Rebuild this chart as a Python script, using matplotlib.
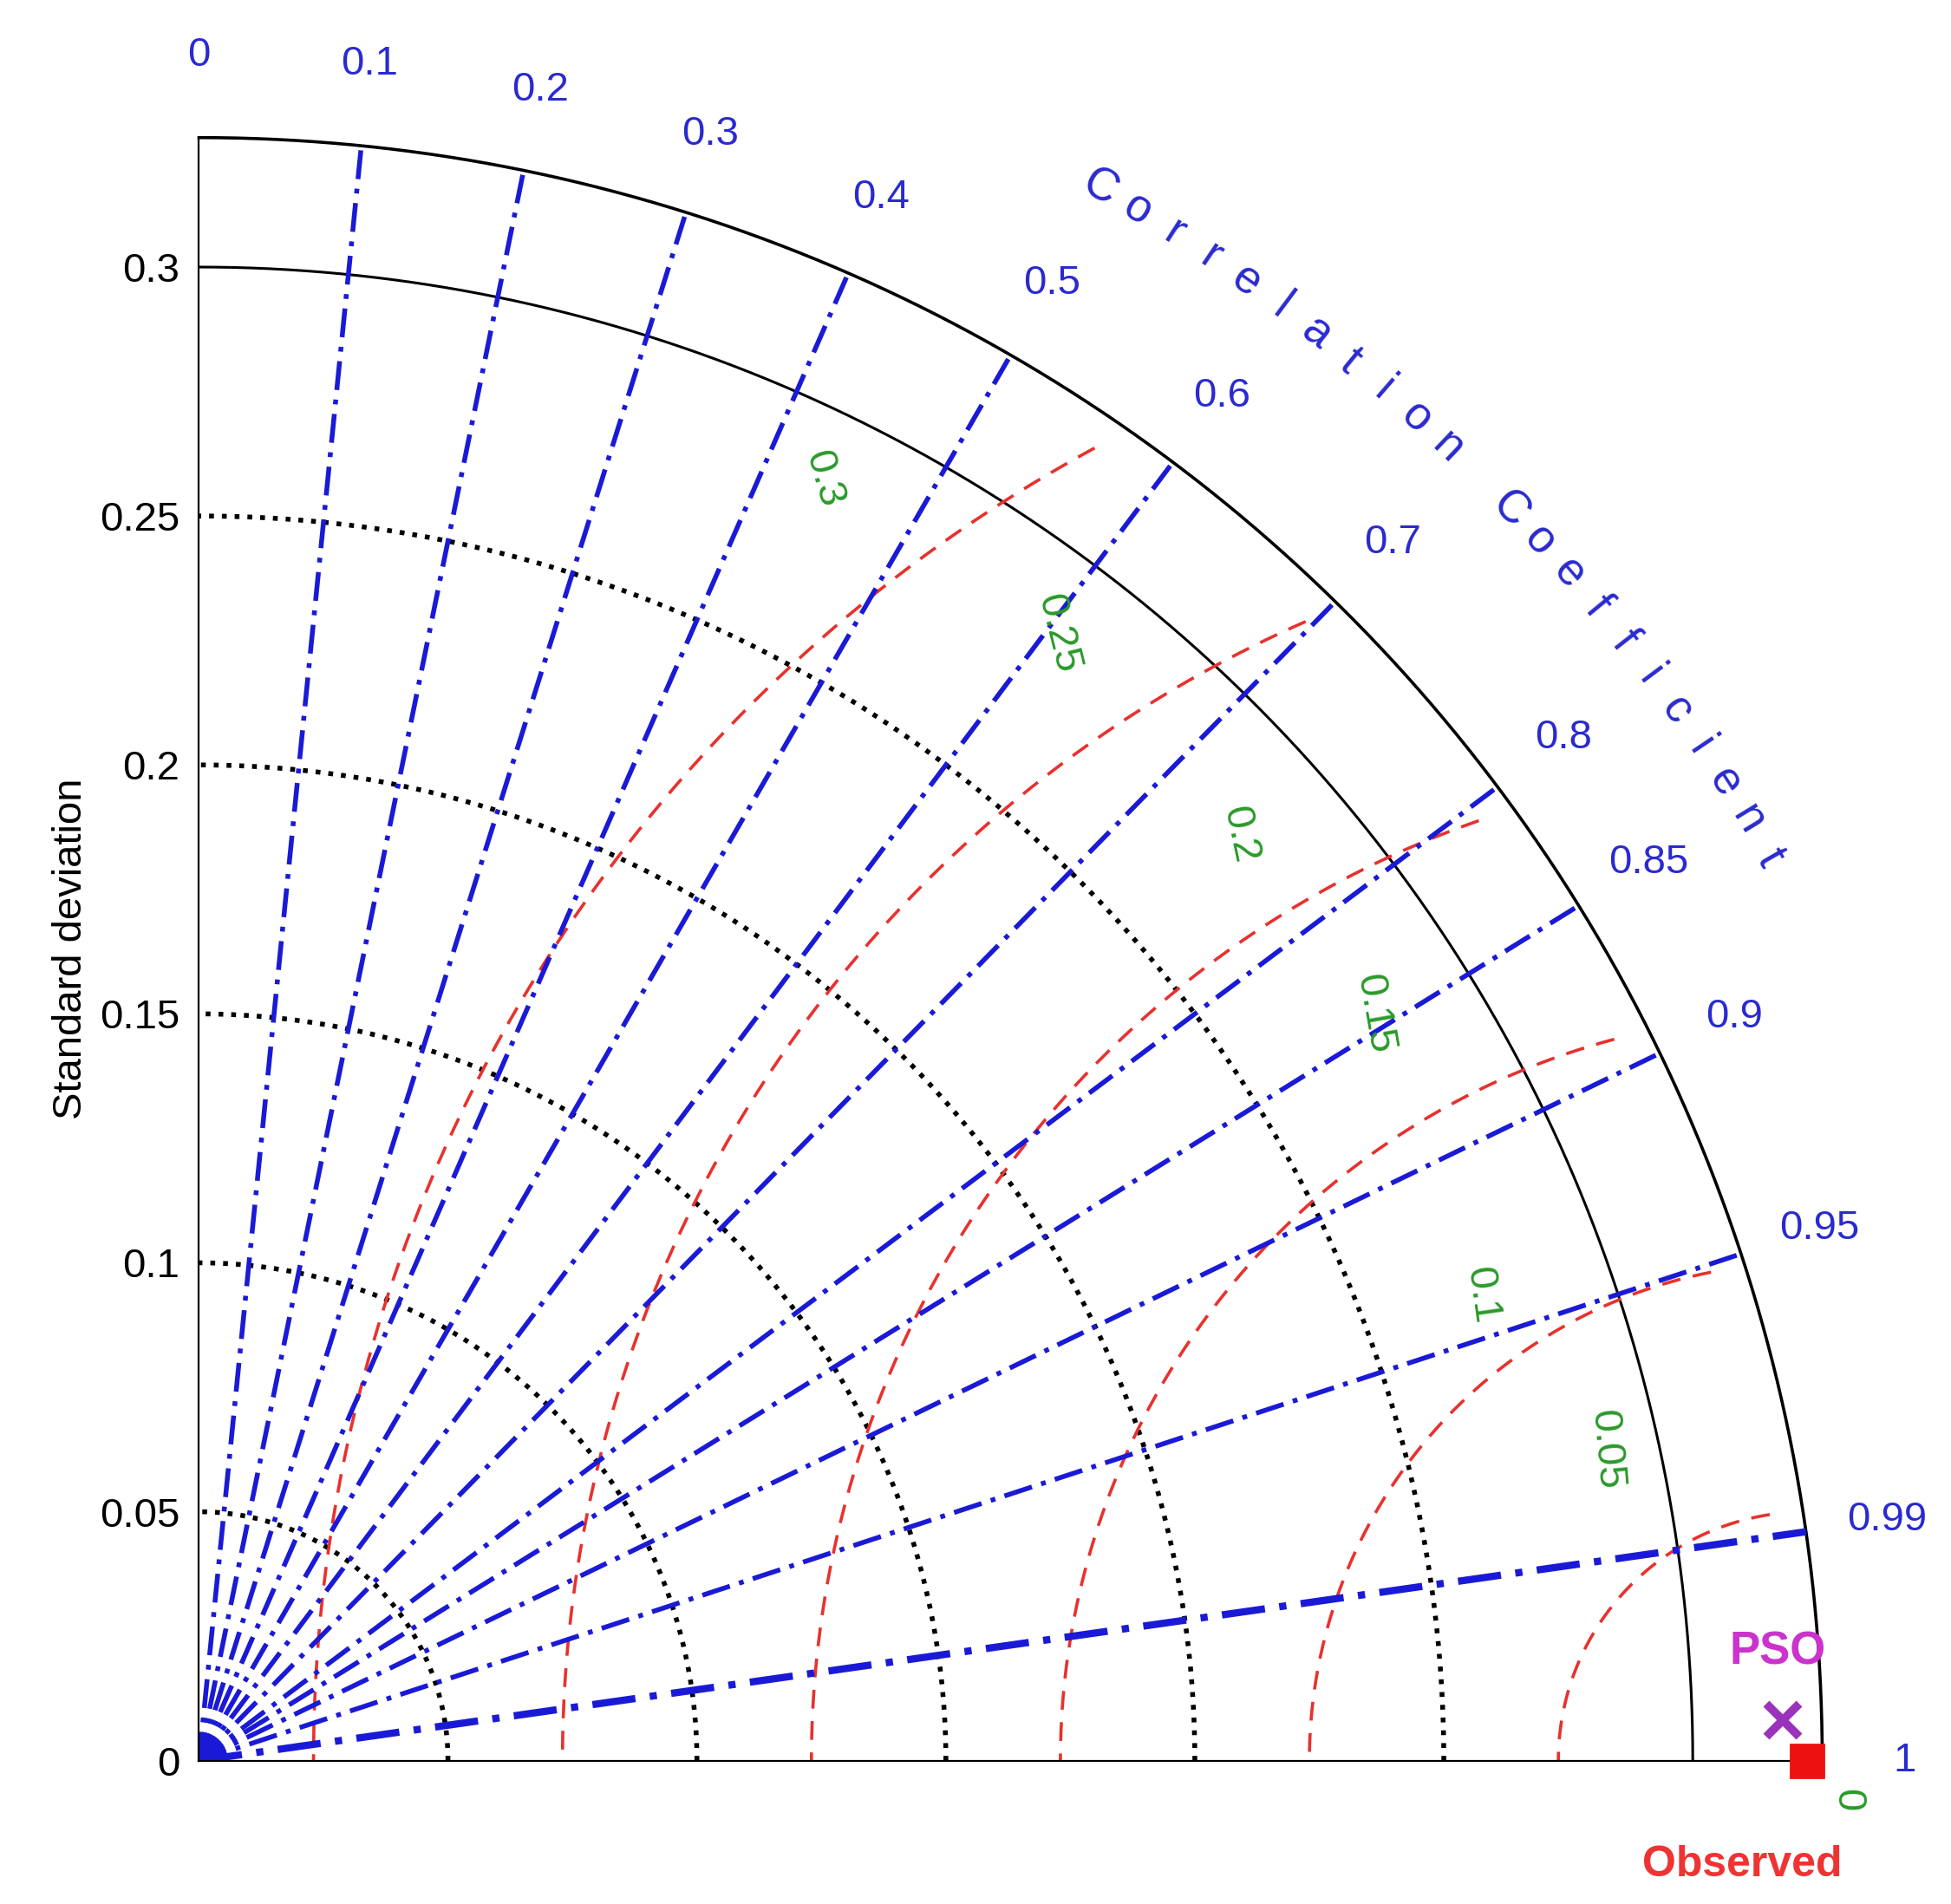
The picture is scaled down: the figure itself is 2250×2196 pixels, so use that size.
import numpy as np
import matplotlib
matplotlib.use('Agg')
from matplotlib import pyplot as plt

plt.rcParams['font.family'] = ['Liberation Sans', 'DejaVu Sans']

# Taylor diagram values
r_max = 0.326
obs_std = 0.323
pso_std = 0.3181
pso_corr = 0.99967
corr_ticks = [0, 0.1, 0.2, 0.3, 0.4, 0.5, 0.6, 0.7, 0.8, 0.85, 0.9, 0.95, 0.99, 1]
corr_lines = [0.1, 0.2, 0.3, 0.4, 0.5, 0.6, 0.7, 0.8, 0.85, 0.9, 0.95, 0.99]
std_ticks = [0, 0.05, 0.1, 0.15, 0.2, 0.25, 0.3]
std_labels = ['0', '0.05', '0.1', '0.15', '0.2', '0.25', '0.3']
std_dotted = [0.05, 0.1, 0.15, 0.2, 0.25]
rms_levels = [0.05, 0.1, 0.15, 0.2, 0.25, 0.3]
rms_labels = ['0.05', '0.1', '0.15', '0.2', '0.25', '0.3', '0']
rms_label_pos = [(0.2825, 0.0625, -85), (0.2575, 0.0935, -82), (0.236, 0.150, -80),
                 (0.209, 0.186, -78), (0.1725, 0.2263, -76), (0.1255, 0.2575, -74),
                 (0.331, -0.008, -90)]

fig = plt.figure(figsize=(11.25, 10.98), dpi=200)
ax = fig.add_axes([0.102, 0.075, 0.832, 0.853])
ax.set_xlim(0, r_max)
ax.set_ylim(0, r_max)
ax.set_aspect('equal')
for s in ['top', 'right']:
    ax.spines[s].set_visible(False)
ax.set_xticks([])
ax.set_yticks(std_ticks)
ax.set_yticklabels(std_labels, fontsize=17)
ax.tick_params(axis='y', length=0, pad=8)
ax.set_ylabel('Standard deviation', fontsize=17)

th = np.linspace(0, np.pi / 2, 400)
ax.plot(r_max * np.cos(th), r_max * np.sin(th), color='k', lw=1.3, clip_on=False)
ax.plot(0.3 * np.cos(th), 0.3 * np.sin(th), color='k', lw=1.1)
for r in std_dotted:
    ax.plot(r * np.cos(th), r * np.sin(th), color='k', ls=':', lw=2)

# RMS arcs centered on observed
for r in rms_levels:
    t = np.linspace(0, np.pi, 800)
    x = obs_std + r * np.cos(t)
    y = r * np.sin(t)
    m = (np.hypot(x, y) <= 0.3195) & (x >= 0)
    ax.plot(x[m], y[m], color='#e8312d', ls=(0, (6, 4)), lw=1.3)

for c in corr_lines:
    a = np.arccos(c)
    lw = 3 if c == 0.99 else 2
    ax.plot([0, r_max * np.cos(a)], [0, r_max * np.sin(a)], color='#1a1ad6',
            ls=(0, (6, 2, 1, 2)), lw=lw)

for c in corr_ticks:
    a = np.arccos(c)
    ax.text(0.3425 * np.cos(a), 0.3425 * np.sin(a), str(c), color='#2a2ad0',
            fontsize=17, ha='center', va='center', clip_on=False)

word = 'Correlation Coefficient'
angs = np.linspace(np.radians(60.2), np.radians(29.9), len(word))
for ch, a in zip(word, angs):
    ax.text(0.364 * np.cos(a), 0.364 * np.sin(a), ch, color='#2a2ad0', fontsize=19,
            rotation=np.degrees(a) - 90, ha='center', va='center', clip_on=False)

for lab, (x, y, rot) in zip(rms_labels, rms_label_pos):
    ax.text(x, y, lab, color='#2a9a2a', fontsize=17, rotation=rot,
            ha='center', va='center', clip_on=False)

ax.plot(obs_std, 0, 's', color='#ee1111', ms=14, clip_on=False, zorder=5)
ax.text(obs_std - 0.013, -0.021, 'Observed', color='#e33', fontsize=18,
        fontweight='bold', ha='center', va='center', clip_on=False)
a = np.arccos(pso_corr)
ax.plot(pso_std * np.cos(a), pso_std * np.sin(a), 'x', color='#9933bb', ms=14,
        mew=3.5, clip_on=False, zorder=5)
ax.text(0.317, 0.0218, 'PSO', color='#cc33cc', fontsize=19, fontweight='bold',
        ha='center', va='center', clip_on=False)

fig.savefig('out.png')
